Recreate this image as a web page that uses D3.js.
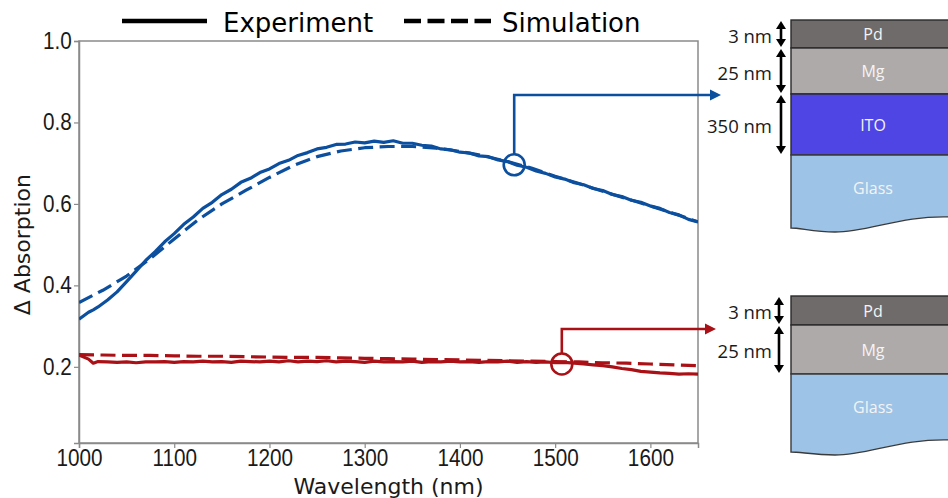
<!DOCTYPE html>
<html>
<head>
<meta charset="utf-8">
<script src="https://cdn.jsdelivr.net/npm/d3@7"></script>
<style>
  body { margin: 0; background: #fff; }
  svg { display: block; }
</style>
</head>
<body>
<div id="chart"></div>
<script>
// wavelength grid of the measured spectra (nm)
var expWl = [1000, 1010, 1015, 1020, 1030, 1040, 1050, 1060, 1070, 1080, 1090, 1100, 1110, 1120, 1130, 1140, 1150,
  1160, 1170, 1180, 1190, 1200, 1210, 1220, 1230, 1240, 1250, 1260, 1270, 1280, 1290, 1300, 1310, 1320, 1330,
  1340, 1350, 1360, 1370, 1380, 1390, 1400, 1410, 1420, 1430, 1440, 1450, 1460, 1470, 1480, 1490, 1500, 1510,
  1520, 1530, 1540, 1550, 1560, 1570, 1580, 1590, 1600, 1610, 1620, 1630, 1640, 1650];

// Pd/Mg/ITO/glass stack, experiment
var itoExp = [0.317, 0.334, 0.340, 0.347, 0.364, 0.384, 0.409, 0.435, 0.461, 0.483, 0.507, 0.527, 0.550, 0.568,
  0.589, 0.604, 0.623, 0.636, 0.653, 0.663, 0.677, 0.686, 0.699, 0.707, 0.719, 0.726, 0.735, 0.739, 0.746, 0.747,
  0.752, 0.750, 0.754, 0.751, 0.755, 0.749, 0.749, 0.744, 0.742, 0.735, 0.733, 0.727, 0.725, 0.718, 0.716, 0.708,
  0.704, 0.695, 0.690, 0.681, 0.675, 0.666, 0.661, 0.652, 0.647, 0.638, 0.633, 0.623, 0.618, 0.609, 0.604, 0.595,
  0.589, 0.579, 0.573, 0.562, 0.556];

// Pd/Mg/glass stack, experiment
var glassExp = [0.229, 0.219, 0.209, 0.213, 0.212, 0.211, 0.212, 0.210, 0.212, 0.212, 0.213, 0.211, 0.213, 0.212,
  0.214, 0.212, 0.213, 0.211, 0.214, 0.213, 0.212, 0.214, 0.212, 0.215, 0.212, 0.214, 0.213, 0.215, 0.212, 0.214,
  0.213, 0.211, 0.214, 0.212, 0.213, 0.212, 0.214, 0.211, 0.213, 0.212, 0.214, 0.212, 0.213, 0.211, 0.213, 0.212,
  0.214, 0.211, 0.213, 0.211, 0.212, 0.210, 0.211, 0.209, 0.207, 0.205, 0.203, 0.200, 0.196, 0.193, 0.189, 0.187,
  0.185, 0.184, 0.182, 0.183, 0.182];

// simulations
var simWl = [1000, 1025, 1050, 1075, 1100, 1125, 1150, 1175, 1200, 1225, 1250, 1275, 1300, 1325, 1350, 1375, 1400,
  1425, 1450, 1475, 1500, 1525, 1550, 1575, 1600, 1625, 1650];
var itoSim = [0.358, 0.388, 0.423, 0.466, 0.514, 0.561, 0.600, 0.633, 0.665, 0.694, 0.716, 0.730, 0.738, 0.741,
  0.741, 0.737, 0.729, 0.718, 0.704, 0.688, 0.668, 0.650, 0.631, 0.613, 0.595, 0.576, 0.556];
var glassSim = [0.230, 0.229, 0.228, 0.228, 0.227, 0.226, 0.226, 0.225, 0.224, 0.223, 0.223, 0.222, 0.221, 0.220,
  0.219, 0.218, 0.217, 0.216, 0.215, 0.214, 0.213, 0.212, 0.210, 0.209, 0.207, 0.205, 0.203];

var xTicks = [1000, 1100, 1200, 1300, 1400, 1500, 1600];
var yTicks = [0.2, 0.4, 0.6, 0.8, 1.0];

var blue = "#0b4f9e";
var red = "#aa1117";

var W = 948, H = 498;
var margin = { top: 41, right: 250, bottom: 55, left: 79 };
var width = W - margin.left - margin.right;
var height = H - margin.top - margin.bottom;

var svg = d3.select("#chart")
  .append("svg")
  .attr("width", W)
  .attr("height", H)
  .style("font-family", "'DejaVu Sans', sans-serif");

var g = svg.append("g")
  .attr("transform", "translate(" + margin.left + "," + margin.top + ")");

var x = d3.scaleLinear().domain([1000, 1650]).range([0, width]);
var y = d3.scaleLinear().domain([0.013, 1.0]).range([height, 0]);

// frame
g.append("rect")
  .attr("width", width)
  .attr("height", height)
  .attr("fill", "none")
  .attr("stroke", "#8a8a8a")
  .attr("stroke-width", 1.5);

var xAxis = g.append("g")
  .attr("transform", "translate(0," + height + ")")
  .call(d3.axisBottom(x).tickValues(xTicks).tickSize(5).tickPadding(2).tickFormat(d3.format("d")));
var yAxis = g.append("g")
  .call(d3.axisLeft(y).tickValues(yTicks).tickSize(5).tickPadding(3).tickFormat(d3.format(".1f")));

[xAxis, yAxis].forEach(function (a) {
  a.select(".domain").attr("stroke", "#8a8a8a").attr("stroke-width", 1.5);
  a.selectAll(".tick line").attr("stroke", "#8a8a8a").attr("stroke-width", 1.2);
  a.selectAll(".tick text")
    .attr("fill", "#1a1a1a")
    .style("font-size", "23px")
    .attr("transform", "scale(0.9,1)");
});

// curves
g.append("clipPath").attr("id", "clip")
  .append("rect").attr("width", width).attr("height", height);
var plot = g.append("g").attr("clip-path", "url(#clip)");

function draw(wl, vals, color, dashed) {
  var pts = wl.map(function (w, i) { return [w, vals[i]]; });
  plot.append("path")
    .datum(pts)
    .attr("fill", "none")
    .attr("stroke", color)
    .attr("stroke-width", 3.2)
    .attr("stroke-linejoin", "round")
    .attr("stroke-dasharray", dashed ? "15,6.5" : null)
    .attr("d", d3.line()
      .x(function (d) { return x(d[0]); })
      .y(function (d) { return y(d[1]); }));
}
draw(simWl, itoSim, blue, true);
draw(expWl, itoExp, blue, false);
draw(simWl, glassSim, red, true);
draw(expWl, glassExp, red, false);

// axis labels
svg.append("text")
  .attr("transform", "translate(30," + (margin.top + y(0.5)) + ") rotate(-90)")
  .attr("text-anchor", "middle")
  .style("font-size", "22px")
  .attr("fill", "#1a1a1a")
  .text("Δ Absorption");
svg.append("text")
  .attr("x", margin.left + width / 2)
  .attr("y", 494)
  .attr("text-anchor", "middle")
  .style("font-size", "22px")
  .attr("fill", "#1a1a1a")
  .text("Wavelength (nm)");

// legend
svg.append("line").attr("x1", 122).attr("x2", 207).attr("y1", 21).attr("y2", 21)
  .attr("stroke", "#000").attr("stroke-width", 4.5);
svg.append("text").attr("x", 223).attr("y", 32).style("font-size", "26px").text("Experiment");
svg.append("line").attr("x1", 404).attr("x2", 491).attr("y1", 21).attr("y2", 21)
  .attr("stroke", "#000").attr("stroke-width", 4.5).attr("stroke-dasharray", "17,6.5");
svg.append("text").attr("x", 502).attr("y", 32).style("font-size", "26px").text("Simulation");

// callouts: circle on curve -> elbow -> arrow to the stack
function callout(wl, val, color, elbowY, tipX) {
  var cx = margin.left + x(wl), cy = margin.top + y(val), r = 10.5;
  svg.append("circle").attr("cx", cx).attr("cy", cy).attr("r", r)
    .attr("fill", "none").attr("stroke", color).attr("stroke-width", 2.6);
  svg.append("path")
    .attr("d", "M" + cx + "," + (cy - r) + "V" + elbowY + "H" + (tipX - 9))
    .attr("fill", "none").attr("stroke", color).attr("stroke-width", 2.6);
  svg.append("path")
    .attr("d", "M" + tipX + "," + elbowY + "l-11,-5.5v11z")
    .attr("fill", color);
}
callout(1457, 0.696, blue, 95, 721);
callout(1507, 0.207, red, 329, 716);

// layer stacks
var stackA = [
  { name: "Pd", label: "3 nm", top: 20, bot: 48, fill: "#706b6b" },
  { name: "Mg", label: "25 nm", top: 48, bot: 94, fill: "#aeaaaa" },
  { name: "ITO", label: "350 nm", top: 94, bot: 155, fill: "#4f45e4" },
  { name: "Glass", label: null, top: 155, bot: 228, fill: "#9dc3e6" }
];
var stackB = [
  { name: "Pd", label: "3 nm", top: 296, bot: 325, fill: "#706b6b" },
  { name: "Mg", label: "25 nm", top: 325, bot: 374, fill: "#aeaaaa" },
  { name: "Glass", label: null, top: 374, bot: 452, fill: "#9dc3e6" }
];

function drawStack(layers, left, arrowX, wave) {
  var right = 952;
  layers.forEach(function (L, i) {
    var last = i === layers.length - 1;
    if (last) {
      var b = L.bot;
      svg.append("path")
        .attr("d", "M" + left + "," + L.top + "H" + right + "V" + (b + wave[2]) +
          "C" + 900 + "," + (b + wave[2] - 2) + " " + 870 + "," + (b + wave[1]) + " " + 835 + "," + (b + wave[1]) +
          "C" + 815 + "," + (b + wave[1]) + " " + 800 + "," + b + " " + left + "," + b + "Z")
        .attr("fill", L.fill).attr("stroke", "#3a3a3a").attr("stroke-width", 1.4);
    } else {
      svg.append("rect")
        .attr("x", left).attr("y", L.top).attr("width", right - left).attr("height", L.bot - L.top)
        .attr("fill", L.fill).attr("stroke", "#2a2a2a").attr("stroke-width", 1.4);
    }
    var ty = last ? L.top + 33 : (L.top + L.bot) / 2;
    svg.append("text")
      .attr("x", 873).attr("y", ty)
      .attr("text-anchor", "middle").attr("dominant-baseline", "central")
      .style("font-family", "'Open Sans', sans-serif")
      .style("font-size", "16px")
      .attr("fill", "#f4f4f4")
      .text(L.name);
    if (L.label) {
      var y0 = L.top + 1, y1 = L.bot - 1, hh = Math.min(8, (y1 - y0) / 2 - 1);
      svg.append("line").attr("x1", arrowX).attr("x2", arrowX)
        .attr("y1", y0 + hh).attr("y2", y1 - hh)
        .attr("stroke", "#000").attr("stroke-width", 2.6);
      svg.append("path")
        .attr("d", "M" + arrowX + "," + y0 + "l-5," + hh + "h10z" +
          "M" + arrowX + "," + y1 + "l-5,-" + hh + "h10z")
        .attr("fill", "#000");
      svg.append("text")
        .attr("x", 772).attr("y", (L.top + L.bot) / 2 + 1)
        .attr("text-anchor", "end").attr("dominant-baseline", "central")
        .style("font-family", "'Open Sans', sans-serif")
        .style("font-size", "18.5px")
        .attr("fill", "#1a1a1a")
        .text(L.label);
    }
  });
}
drawStack(stackA, 791, 781, [0, 4, -11]);
drawStack(stackB, 791, 779, [0, 3, -12]);
</script>
</body>
</html>
